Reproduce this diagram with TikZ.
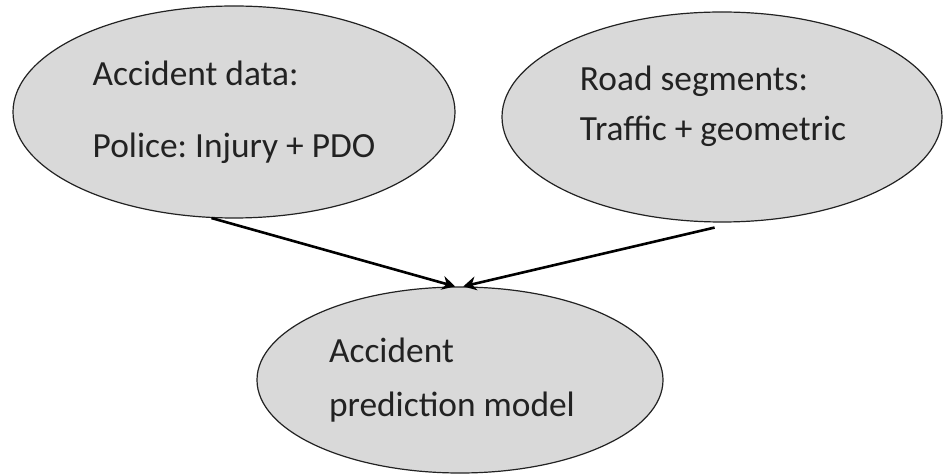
\documentclass[tikz,border=0pt]{standalone}
\usepackage{fontspec}
\setmainfont{Carlito}
\usetikzlibrary{shapes.geometric,arrows.meta}

\definecolor{blobgray}{HTML}{D9D9D9}
\definecolor{inkgray}{HTML}{222222}

\tikzset{
  blob/.style={ellipse, draw=inkgray, line width=1.2bp, fill=blobgray,
    text=inkgray, align=left, inner sep=0pt,
    font=\fontsize{35.5}{50}\selectfont\frenchspacing},
  flow/.style={line width=2.6bp, draw=black, -{Stealth[length=13bp,width=14bp]}}
}

\begin{document}
\begin{tikzpicture}[x=1bp,y=-1bp]
\useasboundingbox (0,0) rectangle (944,474);

% Ellipses
\node[blob, minimum width=442bp, minimum height=212bp] (accdata) at (234,112)
  {Accident data:\\[22bp]Police: Injury + PDO};
\node[blob, minimum width=440bp, minimum height=210bp, text depth=27bp] (roadseg) at (722,117)
  {Road segments:\\Traffic + geometric\kern18bp};
\node[blob, minimum width=406bp, minimum height=186bp] (model) at (460,380)
  {Accident\\[4bp]prediction model\kern16bp};

% Arrows
\draw[flow] (accdata.258) -- (model.93);
\draw[flow] ([yshift=-5bp]roadseg.266) -- (model.88);

\end{tikzpicture}
\end{document}
